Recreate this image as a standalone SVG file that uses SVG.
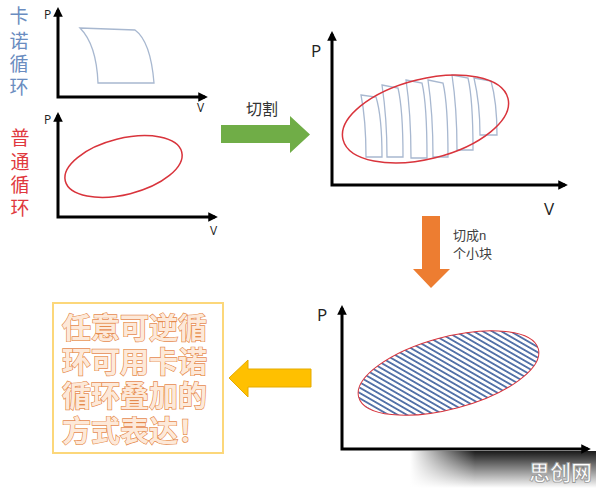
<svg xmlns="http://www.w3.org/2000/svg" width="596" height="488" viewBox="0 0 596 488">
<defs>
<style>
.ax{stroke:#000;stroke-width:3;fill:none}
.axl{font-family:"Open Sans","Liberation Sans",sans-serif;fill:#222}
.cjk{font-family:"Liberation Sans","Noto Sans CJK SC",sans-serif}
.strip{fill:none;stroke:#a8b8d0;stroke-width:1.3}
.big{font-family:"Liberation Sans","Noto Sans CJK SC",sans-serif;font-size:29px;font-weight:bold;fill:#fde9d9;stroke:#e58a4e;stroke-width:1.3;paint-order:stroke}
</style>
<marker id="ah" viewBox="0 0 10 10" refX="7" refY="5" markerWidth="3.2" markerHeight="3.2" orient="auto-start-reverse" markerUnits="strokeWidth">
<path d="M0,0 L10,5 L0,10 Z" fill="#000"/>
</marker>
<pattern id="hatch" width="4.6" height="4.6" patternUnits="userSpaceOnUse" patternTransform="rotate(-45)">
<rect width="4.6" height="4.6" fill="#fff"/>
<rect x="0" y="0" width="1.8" height="4.6" fill="#4f6ea6"/>
</pattern>
<linearGradient id="shade" x1="0" y1="0" x2="0" y2="1">
<stop offset="0" stop-color="#000" stop-opacity="0.9"/>
<stop offset="1" stop-color="#000" stop-opacity="0"/>
</linearGradient>
<linearGradient id="shadeL" x1="0" y1="0" x2="1" y2="0">
<stop offset="0" stop-color="#fff" stop-opacity="1"/>
<stop offset="0.35" stop-color="#fff" stop-opacity="0"/>
</linearGradient>
</defs>
<rect width="596" height="488" fill="#fff"/>

<g id="watermark">
<rect x="410" y="451" width="186" height="37" fill="url(#shade)"/>
<rect x="410" y="451" width="186" height="37" fill="url(#shadeL)"/>
<text x="592" y="480" text-anchor="end" font-family="Noto Sans CJK SC,sans-serif" font-size="21" font-weight="bold" fill="#fff" stroke="#999" stroke-width="0.8">思创网</text>
</g>

<g id="carnot-chart">
<polyline class="ax" points="58,10 58,97 205,97" marker-start="url(#ah)" marker-end="url(#ah)"/>
<text class="axl" x="44" y="19" font-size="12">P</text>
<text class="axl" x="197" y="112" font-size="12">V</text>
<path d="M80,28 L135,30 C146,38 152,58 154,83 L98,83 C97,58 92,40 80,28 Z" fill="none" stroke="#a8b8d0" stroke-width="1.3"/>
</g>
<g id="carnot-label" class="cjk" font-size="19" fill="#6a8cc0" text-anchor="middle">
<text x="19" y="23">卡</text>
<text x="19" y="48">诺</text>
<text x="19" y="71">循</text>
<text x="19" y="94">环</text>
</g>

<g id="ordinary-chart">
<polyline class="ax" points="58,115 58,217 215,217" marker-start="url(#ah)" marker-end="url(#ah)"/>
<text class="axl" x="44" y="124" font-size="12">P</text>
<text class="axl" x="210" y="235" font-size="12">V</text>
<ellipse cx="123.5" cy="166.5" rx="60" ry="28" transform="rotate(-14 123.5 166.5)" fill="none" stroke="#d9343c" stroke-width="1.5"/>
</g>
<g id="ordinary-label" class="cjk" font-size="19" fill="#e0383e" text-anchor="middle">
<text x="20" y="145">普</text>
<text x="20" y="169">通</text>
<text x="20" y="192">循</text>
<text x="20" y="215">环</text>
</g>

<g id="cut-chart">
<polyline class="ax" points="332,34 332,185 565,185" marker-start="url(#ah)" marker-end="url(#ah)"/>
<text class="axl" x="311" y="57" font-size="17">P</text>
<text class="axl" x="544" y="215" font-size="17">V</text>
<g id="strips">
<path class="strip" d="M361,95 L376,97 C380,110 382,130 382,157 L366,157 C366,130 364,110 361,95 Z"/>
<path class="strip" d="M382,85 L398,88 C402,105 403,130 403,157 L387,157 C387,130 385,105 382,85 Z"/>
<path class="strip" d="M406,80 L422,83 C426,100 427,130 427,158 L411,158 C411,130 409,100 406,80 Z"/>
<path class="strip" d="M428,80 L443,83 C447,100 448,130 448,157 L433,157 C433,130 431,100 428,80 Z"/>
<path class="strip" d="M452,75 L468,78 C472,95 473,125 473,150 L457,150 C457,125 455,95 452,75 Z"/>
<path class="strip" d="M474,78 L491,81 C495,95 497,115 497,135 L480,135 C480,115 478,95 474,78 Z"/>
</g>
<ellipse cx="425.5" cy="119" rx="85" ry="40" transform="rotate(-14 425.5 119)" fill="none" stroke="#d9343c" stroke-width="1.5"/>
</g>

<g id="hatched-chart">
<polyline class="ax" points="342,308 342,449 588,449" marker-start="url(#ah)" marker-end="url(#ah)"/>
<text class="axl" x="317" y="321" font-size="17">P</text>
<ellipse cx="448.5" cy="373" rx="93" ry="36" transform="rotate(-15 448.5 373)" fill="url(#hatch)" stroke="#d9343c" stroke-width="1"/>
</g>

<g id="summary">
<rect x="53" y="303" width="170" height="150" fill="#fff" stroke="#fcd77a" stroke-width="2"/>
<text class="big" x="62" y="339">任意可逆循</text>
<text class="big" x="62" y="373">环可用卡诺</text>
<text class="big" x="62" y="407">循环叠加的</text>
<text class="big" x="62" y="442">方式表达！</text>
</g>

<g id="connectors">
<g id="arrow-cut">
<path d="M221,125 L290,125 L290,116 L310,134.5 L290,153 L290,143 L221,143 Z" fill="#70ad47"/>
<text class="cjk" x="262" y="115" font-size="16" fill="#333" text-anchor="middle">切割</text>
</g>
<g id="arrow-split">
<path d="M422,216 L440,216 L440,269 L450,269 L431,288 L413,269 L422,269 Z" fill="#ed7d31"/>
<text class="cjk" x="453" y="240" font-size="13" fill="#404040">切成n</text>
<text class="cjk" x="453" y="258" font-size="13" fill="#404040">个小块</text>
</g>
<g id="arrow-result">
<path d="M311,369 L248,369 L248,360 L229,378 L248,397 L248,387 L311,387 Z" fill="#ffc000" stroke="#e5ab00" stroke-width="1"/>
</g>
</g>
</svg>
